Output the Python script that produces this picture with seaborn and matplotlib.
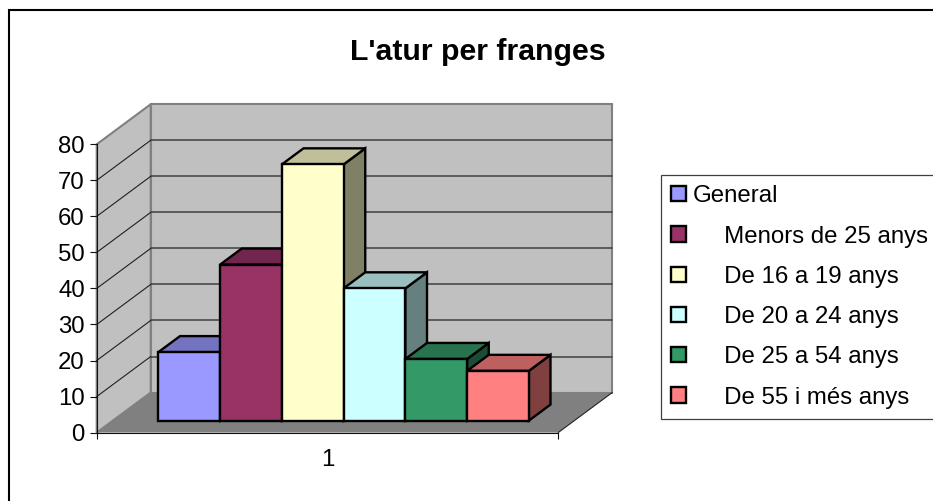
import numpy as np
import pandas as pd
import matplotlib
matplotlib.use("Agg")
import matplotlib.pyplot as plt
from matplotlib.patches import Polygon, Rectangle
from matplotlib.transforms import Affine2D
from matplotlib.colors import to_rgb
import seaborn as sns

# Data
category = ["1"]
series = ["General", "Menors de 25 anys", "De 16 a 19 anys",
          "De 20 a 24 anys", "De 25 a 54 anys", "De 55 i més anys"]
values = [19.0, 43.3, 71.1, 36.7, 17.1, 13.8]
y_ticks = [0, 10, 20, 30, 40, 50, 60, 70, 80]
legend_indent = ["", "     ", "     ", "     ", "     ", "     "]
colors = ["#9999FF", "#993366", "#FFFFCC", "#CCFFFF", "#339966", "#FF8080"]
title = "L'atur per franges"

W, H = 933, 501
sns.set_theme(style="white")
plt.rcParams["font.family"] = ["Liberation Sans", "DejaVu Sans"]
FS = 17.3

fig = plt.figure(figsize=(W / 100, H / 100), dpi=100, facecolor="white")
ax = fig.add_axes([96.7 / W, 1 - 432.6 / H, 461.5 / W, 288.3 / H])

df = pd.DataFrame({"cat": category * len(series), "serie": series, "valor": values})
sns.barplot(data=df, x="cat", y="valor", hue="serie", hue_order=series,
            palette=colors, saturation=1, width=370.5 / 461.5, gap=0, dodge=True,
            edgecolor="black", linewidth=1.7, legend=False, ax=ax, zorder=5)

ax.set_xlim(-0.5, 0.5)
ax.set_ylim(y_ticks[0], y_ticks[-1])
ax.patch.set_visible(False)
ax.set_xlabel("")
ax.set_ylabel("")
sns.despine(ax=ax)

# oblique projection: depth vector in data units
DX = 54 / 461.5
DY = 40 / 3.6
D0, D1 = 0.30, 0.70


def P(x, y, d):
    return (x + d * DX, y + d * DY)


x0, x1 = ax.get_xlim()
y0, y1 = ax.get_ylim()
GRAY = "#808080"
WALL = "#C0C0C0"

# walls and floor
ax.add_patch(Polygon([P(x0, y0, 1), P(x1, y0, 1), P(x1, y1, 1), P(x0, y1, 1)], closed=True,
                     facecolor=WALL, edgecolor=GRAY, lw=1.5, zorder=0, clip_on=False))
ax.add_patch(Polygon([P(x0, y0, 0), P(x0, y0, 1), P(x0, y1, 1), P(x0, y1, 0)], closed=True,
                     facecolor=WALL, edgecolor=GRAY, lw=1.5, zorder=0, clip_on=False))
ax.add_patch(Polygon([P(x0, y0, 0), P(x1, y0, 0), P(x1, y0, 1), P(x0, y0, 1)], closed=True,
                     facecolor=GRAY, edgecolor="none", zorder=0.5, clip_on=False))
ax.plot(*zip(P(x1, y0, 0), P(x1, y0, 1)), color="#222222", lw=0.8, zorder=0.6, clip_on=False)

# gridlines
for v in y_ticks[1:-1]:
    ax.plot(*zip(P(x0, v, 1), P(x1, v, 1)), color="#404040", lw=1.1, zorder=1, clip_on=False)
    ax.plot(*zip(P(x0, v, 0), P(x0, v, 1)), color="#202020", lw=0.8, zorder=1, clip_on=False)


def shade(c, f):
    return tuple(f * k for k in to_rgb(c))


# bars: shifted front faces, plus top and side faces
shift = Affine2D().translate(D0 * DX, D0 * DY) + ax.transData
for i, cont in enumerate(ax.containers):
    bar = cont.patches[0]
    bar.set_transform(shift)
    bar.set_clip_on(False)
    bar.set_zorder(3 + i + 0.3)
    bar.set_joinstyle("miter")
    xa, xb = bar.get_x(), bar.get_x() + bar.get_width()
    h = bar.get_height()
    c = colors[i]
    ax.add_patch(Polygon([P(xb, 0, D0), P(xb, 0, D1), P(xb, h, D1), P(xb, h, D0)], closed=True,
                         facecolor=shade(c, 0.5), edgecolor="black", lw=1.7, zorder=3 + i,
                         clip_on=False, joinstyle="miter"))
    ax.add_patch(Polygon([P(xa, h, D0), P(xb, h, D0), P(xb, h, D1), P(xa, h, D1)], closed=True,
                         facecolor=shade(c, 0.75), edgecolor="black", lw=1.7, zorder=3 + i + 0.1,
                         clip_on=False, joinstyle="miter"))

# axes
for s in ("left", "bottom"):
    ax.spines[s].set_color("#111111")
    ax.spines[s].set_linewidth(0.8)
    ax.spines[s].set_zorder(2)
ax.set_yticks(y_ticks)
ax.tick_params(axis="y", which="major", left=True, length=5, width=0.8, color="#111111",
               pad=3.5, labelsize=FS, labelcolor="black")
ax.set_xticks([x0, x1], labels=["", ""])
ax.set_xticks([0], labels=category, minor=True)
ax.tick_params(axis="x", which="major", bottom=True, length=4.5, width=0.8, color="#111111")
ax.tick_params(axis="x", which="minor", bottom=False, length=0, pad=12, labelsize=FS, labelcolor="black")

# legend
leg = ax.legend(handles=list(ax.containers),
                labels=[p + s for p, s in zip(legend_indent, series)],
                loc="upper left", bbox_to_anchor=(660.7 / W, 1 - 174.7 / H),
                bbox_transform=fig.transFigure, borderaxespad=0, fontsize=FS,
                frameon=True, fancybox=False, framealpha=1, edgecolor="#404040",
                handlelength=0.6, handleheight=0.6, handletextpad=0.3,
                labelspacing=0.76, borderpad=0.44)
leg.get_frame().set_linewidth(0.9)
leg.set_zorder(20)
for t, p in zip(leg.get_texts(), legend_indent):
    t.set_color("black")
    if p:
        t.set_x(-2)

# title and chart border
fig.text(478 / W, 1 - 52.5 / H, title, ha="center", va="center", fontsize=21.8,
         fontweight="bold", color="black")
fig.add_artist(Rectangle((9 / W, -0.1), 1.1, 1.1 - 9.5 / H, transform=fig.transFigure,
                         facecolor="none", edgecolor="black", lw=1.5))

fig.savefig("out.png", dpi=100, facecolor="white")
